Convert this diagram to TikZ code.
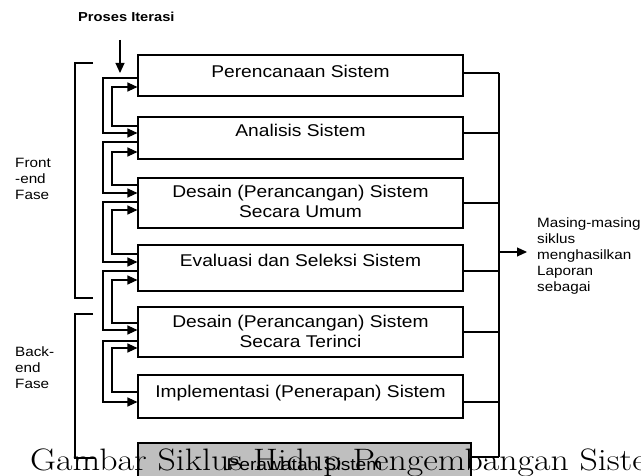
\documentclass[tikz,border=0pt]{standalone}
\usepackage{fontspec}
\newfontfamily\boxfont[FakeStretch=1.13]{Liberation Sans}
\usetikzlibrary{arrows.meta,calc}

\tikzset{
    box/.style={draw, line width=1.1pt, minimum width=325pt, inner sep=0pt},
    ln/.style={line width=1.1pt},
    arr/.style={-{Triangle[length=10pt,width=9pt]}},
    txt/.style={font=\boxfont\fontsize{17}{20}\selectfont, align=center, inner sep=0pt, anchor=base},
    lbl/.style={font=\boxfont\fontsize{13.5}{16}\selectfont, align=left, inner sep=0pt, anchor=north west}
}

\begin{document}
\begin{tikzpicture}[x=1pt,y=-1pt]
    \useasboundingbox (0,0) rectangle (641,476);
    \clip (0,0) rectangle (641,476);

    % Phase boxes
    \node[box, minimum height=41pt] (b1) at (300.5,75.5) {};
    \node[box, minimum height=42pt] (b2) at (300.5,138) {};
    \node[box, minimum height=50pt] (b3) at (300.5,203) {};
    \node[box, minimum height=46pt] (b4) at (300.5,268) {};
    \node[box, minimum height=50pt] (b5) at (300.5,332) {};
    \node[box, minimum height=43pt] (b6) at (300.5,396.5) {};

    % base of a two-line node is its last line
    \node[txt] (t1) at (b1.center |- 0,78) {Perencanaan Sistem};
    \node[txt] (t2) at (b2.center |- 0,137) {Analisis Sistem};
    \node[txt] (t3) at (b3.center |- 0,218) {Desain (Perancangan) Sistem\\Secara Umum};
    \node[txt] (t4) at (b4.center |- 0,267) {Evaluasi dan Seleksi Sistem};
    \node[txt] (t5) at (b5.center |- 0,348) {Desain (Perancangan) Sistem\\Secara Terinci};
    \node[txt] (t6) at (b6.center |- 0,398) {Implementasi (Penerapan) Sistem};

    % Iteration loops on the left
    \foreach \a/\b/\fo/\fn/\bo/\bn in {b1/b2/78/133/126/87, b2/b3/142/193/185/152,
        b3/b4/202/262/254/210, b4/b5/271/330/323/280, b5/b6/341/402/392/348} {
        \draw[ln,arr] (\a.west |- 0,\fo) -- (103,\fo) -- (103,\fn) -- (\b.west |- 0,\fn);
        \draw[ln,arr] (\b.west |- 0,\bo) -- (112,\bo) -- (112,\bn) -- (\a.west |- 0,\bn);
    }

    \node[font=\boxfont\bfseries\fontsize{13}{15}\selectfont, inner sep=0pt, anchor=north west] (iter) at (78,12) {Proses Iterasi};
    \coordinate (itop) at (120,40);
    \draw[ln,arr] (itop) -- (120,73);

    % Brackets
    \draw[ln] (93,63) -- (75,63) -- (75,298) -- (93,298);
    \draw[ln] (93,314) -- (75,314) -- (75,458) -- (95,458);
    \node[lbl] (front) at (15,158) {Front\\-end\\Fase};
    \node[lbl] (back) at (15,347) {Back-\\end\\Fase};

    % Maintenance box
    \node[box, fill=gray!50, minimum width=333pt, minimum height=50pt] (b7) at (304.5,468) {};
    \node[txt] (t7) at (b7.center |- 0,470) {Perawatan Sistem};

    % Reports on the right
    \node[lbl] (note) at (537,218) {Masing-masing\\siklus\\menghasilkan\\Laporan\\sebagai};
    \foreach \n/\y in {b1/73, b2/133, b3/203, b4/271, b5/332, b6/402, b7/457}
        \draw[ln] (\n.east |- 0,\y) -- (499,\y);
    \draw[ln] (499,73) -- (499,457);
    \draw[ln,arr] (499,252) -- ($(note.west |- 0,252)-(10,0)$);

    \node[font=\fontsize{31}{34}\selectfont, inner sep=0pt, anchor=base west] (cap) at (30,470) {\scalebox{1.155}[1]{Gambar Siklus Hidup Pengembangan Sistem}};
\end{tikzpicture}
\end{document}
